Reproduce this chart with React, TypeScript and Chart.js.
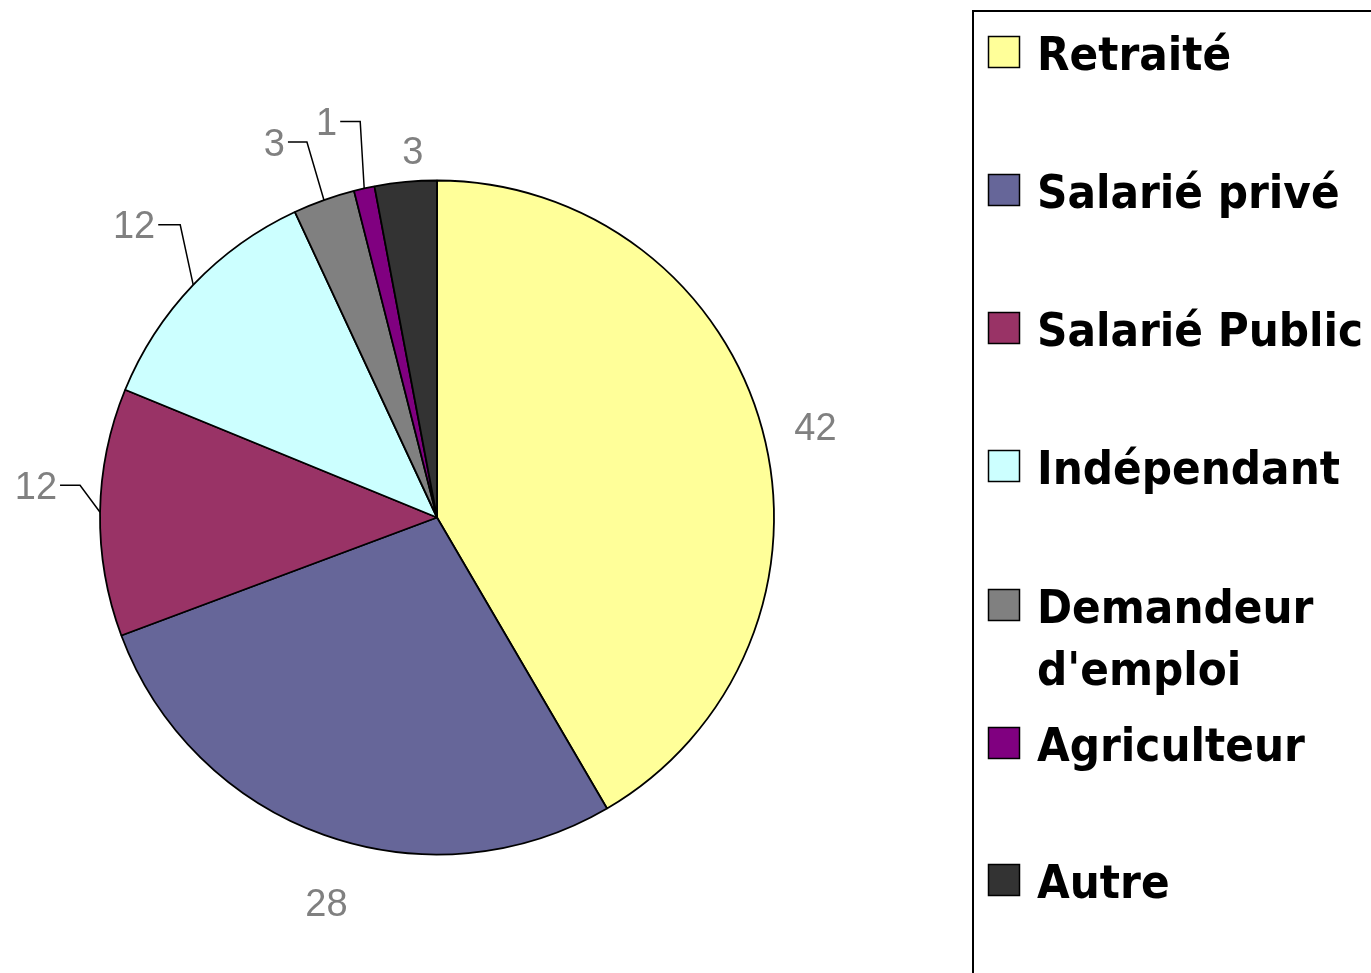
import React, { useEffect, useRef } from "react";
import { Chart, registerables } from "chart.js";

Chart.register(...registerables);

const categories = [
  "Retraité",
  "Salarié privé",
  "Salarié Public",
  "Indépendant",
  "Demandeur d'emploi",
  "Agriculteur",
  "Autre",
];
const legendLines = [
  ["Retraité"],
  ["Salarié privé"],
  ["Salarié Public"],
  ["Indépendant"],
  ["Demandeur", "d'emploi"],
  ["Agriculteur"],
  ["Autre"],
];
const values = [42, 28, 12, 12, 3, 1, 3];
const valueLabels = ["42", "28", "12", "12", "3", "1", "3"];
const colors = ["#FFFF99", "#666699", "#993366", "#CCFFFF", "#808080", "#800080", "#333333"];

const labelPlacements = [
  { type: "radial", gap: 52, dx: 3, dy: 11 },
  { type: "radial", gap: 64, dx: 24, dy: 7 },
  { type: "leader", ex: -20, ey: -27, h: 20 },
  { type: "leader", ex: -13, ey: -60, h: 22 },
  { type: "leader", ex: -17, ey: -58, h: 19 },
  { type: "leader", ex: -4, ey: -67, h: 20 },
  { type: "radial", gap: 31, dx: 10, dy: -1 },
];

const LABEL_FONT = "38px 'Liberation Sans', Arial, sans-serif";
const LEGEND_FONT = "bold 47px 'DejaVu Sans Condensed', 'DejaVu Sans', sans-serif";

const labelPlugin = {
  id: "pieLabels",
  afterDatasetsDraw(chart: any) {
    const ctx = chart.ctx;
    const meta = chart.getDatasetMeta(0);
    ctx.save();
    ctx.font = LABEL_FONT;
    ctx.fillStyle = "#808080";
    ctx.strokeStyle = "#000000";
    ctx.lineWidth = 1.5;
    meta.data.forEach((arc: any, i: number) => {
      const p: any = labelPlacements[i];
      const mid = (arc.startAngle + arc.endAngle) / 2;
      const r = arc.outerRadius;
      const cx = arc.x;
      const cy = arc.y;
      const text = valueLabels[i];
      const half = 0.358 * 38;
      if (p.type === "radial") {
        const x = cx + Math.cos(mid) * (r + p.gap) + p.dx;
        const y = cy + Math.sin(mid) * (r + p.gap) + p.dy;
        ctx.textAlign = "center";
        ctx.textBaseline = "alphabetic";
        ctx.fillText(text, x, y + half);
      } else {
        const ex = cx + Math.cos(mid) * r;
        const ey = cy + Math.sin(mid) * r;
        const kx = ex + p.ex;
        const ky = ey + p.ey;
        ctx.beginPath();
        ctx.moveTo(ex, ey);
        ctx.lineTo(kx, ky);
        ctx.lineTo(kx - p.h, ky);
        ctx.stroke();
        ctx.textAlign = "right";
        ctx.textBaseline = "alphabetic";
        ctx.fillText(text, kx - p.h - 3, ky + half);
      }
    });
    ctx.restore();
  },
};

const legendPlugin = {
  id: "customLegend",
  afterDraw(chart: any) {
    const ctx = chart.ctx;
    ctx.save();
    ctx.strokeStyle = "#000000";
    ctx.lineWidth = 2;
    ctx.strokeRect(973, 11, 600, 1100);
    const centers = [52, 190, 328, 466, 605, 743, 880];
    categories.forEach((_c, i) => {
      const cy = centers[i];
      ctx.fillStyle = colors[i];
      ctx.fillRect(988, cy - 16, 32, 32);
      ctx.lineWidth = 1.5;
      ctx.strokeStyle = "#000000";
      ctx.strokeRect(988.5, cy - 15.5, 31, 31);
      ctx.fillStyle = "#000000";
      ctx.font = LEGEND_FONT;
      ctx.textAlign = "left";
      ctx.textBaseline = "alphabetic";
      legendLines[i].forEach((line, j) => {
        ctx.fillText(line, 1037, cy + 18 + j * 62);
      });
    });
    ctx.restore();
  },
};

export default function App() {
  const ref = useRef<HTMLCanvasElement | null>(null);
  useEffect(() => {
    if (!ref.current) return;
    const chart = new Chart(ref.current, {
      type: "pie",
      data: {
        labels: categories,
        datasets: [
          {
            data: values,
            backgroundColor: colors,
            borderColor: "#000000",
            borderWidth: 1.8,
            hoverOffset: 0,
            offset: 0,
          },
        ],
      },
      options: {
        responsive: false,
        animation: false,
        devicePixelRatio: 1,
        radius: 337,
        layout: { padding: { left: 100, right: 597, top: 180, bottom: 118 } },
        plugins: {
          legend: { display: false },
          tooltip: { enabled: false },
        },
        events: [],
      },
      plugins: [labelPlugin, legendPlugin],
    });
    return () => chart.destroy();
  }, []);
  return (
    <div style={{ position: "absolute", left: 0, top: 0, width: 1371, height: 973, background: "#fff", overflow: "hidden" }}>
      <canvas ref={ref} width={1371} height={973} style={{ display: "block" }} />
    </div>
  );
}
